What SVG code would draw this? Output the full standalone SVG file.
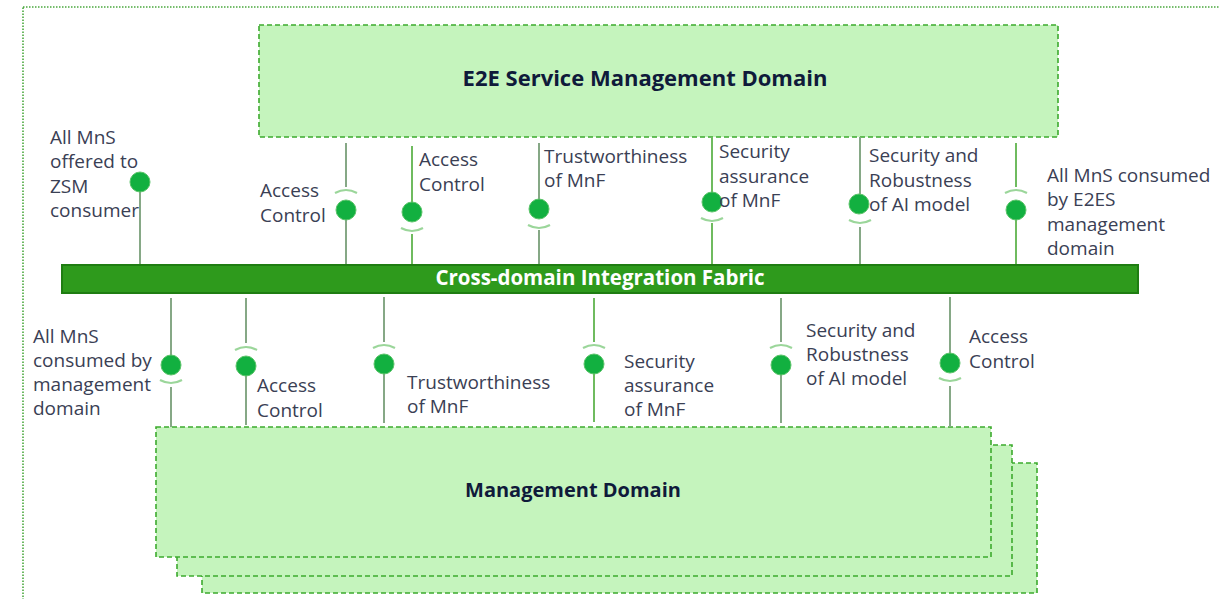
<svg xmlns="http://www.w3.org/2000/svg" width="1219" height="599" viewBox="0 0 1219 599">
<style>
.lbl{font-family:"Open Sans","Liberation Sans",sans-serif;font-size:19px;fill:#3a4054}
.title{font-family:"Open Sans","Liberation Sans",sans-serif;font-size:20px;font-weight:700;fill:#0f1a3a}
.dom{fill:#c5f4bd;stroke:#3caa2e;stroke-width:1.6;stroke-dasharray:5 3}
.ln{stroke:#86a886;stroke-width:2;fill:none}
.lg{stroke:#6fbb5f;stroke-width:2;fill:none}
.sock{stroke:#9bd69a;stroke-width:2.2;fill:none}
.ball{fill:#12b040;stroke:#5cc46a;stroke-width:1}
</style>
<rect x="23" y="7" width="1220" height="620" fill="none" stroke="#4aa83e" stroke-width="1.6" stroke-dasharray="1.5 1.5"/>
<g id="e2e">
<rect class="dom" x="259" y="25" width="799" height="112"/>
<text class="title" x="645" y="86" text-anchor="middle" font-size="22" style="font-size:22px">E2E Service Management Domain</text>
</g>
<g id="mgmt">
<rect class="dom" x="202" y="463" width="835" height="130"/>
<rect class="dom" x="177" y="445" width="835" height="131"/>
<rect class="dom" x="156" y="427" width="835" height="130"/>
<text class="title" x="573" y="497" text-anchor="middle">Management Domain</text>
</g>
<g id="connectors">
<line class="ln" x1="140" y1="182" x2="140" y2="265"/>
<line class="ln" x1="346" y1="143" x2="346" y2="187"/>
<line class="ln" x1="346" y1="210" x2="346" y2="265"/>
<line class="lg" x1="412" y1="146" x2="412" y2="212"/>
<line class="lg" x1="412" y1="234" x2="412" y2="265"/>
<line class="ln" x1="539" y1="143" x2="539" y2="209"/>
<line class="ln" x1="539" y1="230" x2="539" y2="265"/>
<line class="lg" x1="712" y1="137" x2="712" y2="202"/>
<line class="lg" x1="712" y1="223" x2="712" y2="265"/>
<line class="ln" x1="860" y1="137" x2="860" y2="204"/>
<line class="ln" x1="860" y1="227" x2="860" y2="265"/>
<line class="lg" x1="1016" y1="143" x2="1016" y2="187"/>
<line class="lg" x1="1016" y1="210" x2="1016" y2="265"/>
<line class="ln" x1="171" y1="298" x2="171" y2="365"/>
<line class="ln" x1="171" y1="387" x2="171" y2="427"/>
<line class="ln" x1="246" y1="298" x2="246" y2="343"/>
<line class="ln" x1="246" y1="366" x2="246" y2="425"/>
<line class="ln" x1="384" y1="297" x2="384" y2="342"/>
<line class="ln" x1="384" y1="364" x2="384" y2="423"/>
<line class="lg" x1="594" y1="298" x2="594" y2="342"/>
<line class="lg" x1="594" y1="364" x2="594" y2="422"/>
<line class="ln" x1="781" y1="298" x2="781" y2="342"/>
<line class="ln" x1="781" y1="365" x2="781" y2="423"/>
<line class="ln" x1="950" y1="297" x2="950" y2="363"/>
<line class="ln" x1="950" y1="386" x2="950" y2="427"/>
<path class="sock" d="M335 193 Q346 187 357 193"/>
<path class="sock" d="M401 228 Q412 234 423 228"/>
<path class="sock" d="M528 225 Q539 231 550 225"/>
<path class="sock" d="M701 218 Q712 224 723 218"/>
<path class="sock" d="M849 220 Q860 226 871 220"/>
<path class="sock" d="M1005 193 Q1016 187 1027 193"/>
<path class="sock" d="M160 380 Q171 386 182 380"/>
<path class="sock" d="M235 350 Q246 344 257 350"/>
<path class="sock" d="M373 348 Q384 342 395 348"/>
<path class="sock" d="M583 348 Q594 342 605 348"/>
<path class="sock" d="M770 348 Q781 342 792 348"/>
<path class="sock" d="M939 378 Q950 384 961 378"/>
<circle class="ball" cx="140" cy="182" r="10"/>
<circle class="ball" cx="346" cy="210" r="10"/>
<circle class="ball" cx="412" cy="212" r="10"/>
<circle class="ball" cx="539" cy="209" r="10"/>
<circle class="ball" cx="712" cy="202" r="10"/>
<circle class="ball" cx="859" cy="204" r="10"/>
<circle class="ball" cx="1016" cy="210" r="10"/>
<circle class="ball" cx="171" cy="365" r="10"/>
<circle class="ball" cx="246" cy="366" r="10"/>
<circle class="ball" cx="384" cy="364" r="10"/>
<circle class="ball" cx="594" cy="364" r="10"/>
<circle class="ball" cx="781" cy="365" r="10"/>
<circle class="ball" cx="950" cy="363" r="10"/>
</g>
<g id="fabric">
<rect x="62" y="265" width="1076" height="28" fill="#2e9a1c" stroke="#1f7d12" stroke-width="2"/>
<text x="600" y="284.5" text-anchor="middle" font-family="'Open Sans','Liberation Sans',sans-serif" font-size="20.5" font-weight="700" fill="#ffffff">Cross-domain Integration Fabric</text>
</g>
<g id="labels">
<text class="lbl"><tspan x="50" y="144">All MnS</tspan><tspan x="50" y="168">offered to</tspan><tspan x="50" y="193">ZSM</tspan><tspan x="50" y="217">consumer</tspan></text>
<text class="lbl"><tspan x="260" y="197">Access</tspan><tspan x="260" y="222">Control</tspan></text>
<text class="lbl"><tspan x="419" y="166">Access</tspan><tspan x="419" y="191">Control</tspan></text>
<text class="lbl"><tspan x="544" y="163">Trustworthiness</tspan><tspan x="544" y="187">of MnF</tspan></text>
<text class="lbl"><tspan x="719" y="158">Security</tspan><tspan x="719" y="183">assurance</tspan><tspan x="719" y="207">of MnF</tspan></text>
<text class="lbl"><tspan x="869" y="162">Security and</tspan><tspan x="869" y="187">Robustness</tspan><tspan x="869" y="211">of AI model</tspan></text>
<text class="lbl"><tspan x="1047" y="182">All MnS consumed</tspan><tspan x="1047" y="206">by E2ES</tspan><tspan x="1047" y="231">management</tspan><tspan x="1047" y="255">domain</tspan></text>
<text class="lbl"><tspan x="33" y="343">All MnS</tspan><tspan x="33" y="367">consumed by</tspan><tspan x="33" y="391">management</tspan><tspan x="33" y="415">domain</tspan></text>
<text class="lbl"><tspan x="257" y="392">Access</tspan><tspan x="257" y="417">Control</tspan></text>
<text class="lbl"><tspan x="407" y="389">Trustworthiness</tspan><tspan x="407" y="413">of MnF</tspan></text>
<text class="lbl"><tspan x="624" y="368">Security</tspan><tspan x="624" y="392">assurance</tspan><tspan x="624" y="416">of MnF</tspan></text>
<text class="lbl"><tspan x="806" y="337">Security and</tspan><tspan x="806" y="361">Robustness</tspan><tspan x="806" y="385">of AI model</tspan></text>
<text class="lbl"><tspan x="969" y="343">Access</tspan><tspan x="969" y="368">Control</tspan></text>
</g>
</svg>
